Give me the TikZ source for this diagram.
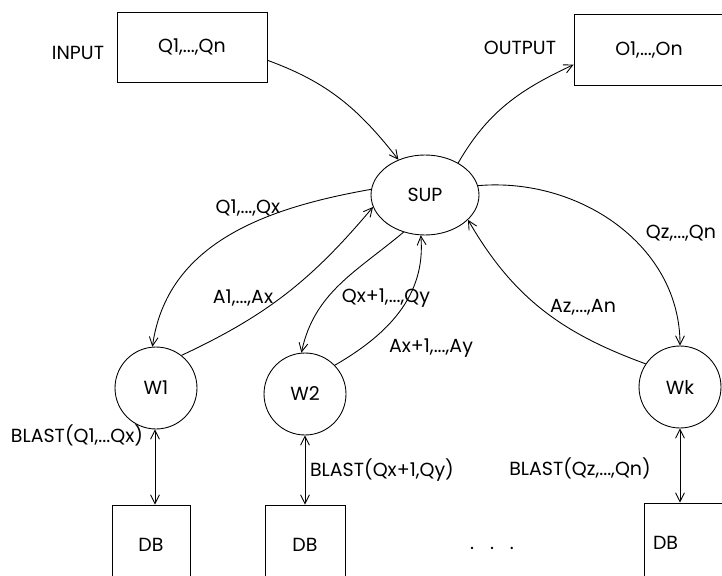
\documentclass[tikz,border=0pt]{standalone}
\usepackage{fontspec}
\setmainfont{Poppins}
\usetikzlibrary{shapes.geometric,arrows.meta}

\tikzset{
  every node/.style={font=\fontsize{10.8}{13}\selectfont},
  box/.style={draw,rectangle,line width=0.5pt},
  worker/.style={draw,circle,minimum size=1.64cm,inner sep=0pt,line width=0.5pt},
  flow/.style={line width=0.5pt,-{Straight Barb[length=5pt,width=5pt]}},
  both/.style={line width=0.5pt,{Straight Barb[length=5pt,width=5pt]}-{Straight Barb[length=5pt,width=5pt]}}
}

\begin{document}
\begin{tikzpicture}[x=0.02cm,y=0.02cm]
\useasboundingbox (0,0) rectangle (722,575);

\node[box,minimum width=3cm,minimum height=1.4cm] (inbox) at (192,528) {Q1,...,Qn};
\node (input) at (78,522) {INPUT};
\node[box,minimum width=3cm,minimum height=1.42cm] (outbox) at (649,525) {O1,...,On};
\node (output) at (520,527) {OUTPUT};

\node[draw,ellipse,minimum width=2.16cm,minimum height=1.6cm,inner sep=0pt,line width=0.5pt] (sup) at (425,380) {SUP};

\node[worker] (w1) at (156,187) {W1};
\node[worker] (w2) at (305,181) {W2};
\node[worker] (wk) at (680,188) {Wk};

\node[box,minimum width=1.56cm,minimum height=1.6cm] (db1) at (151,30) {DB};
\node[box,minimum width=1.6cm,minimum height=1.6cm] (db2) at (305,30) {DB};
\node[box,minimum height=1.6cm,text width=1.2cm,align=left,inner xsep=0.18cm] (dbk) at (683,32) {DB};
\node[anchor=base] (dots) at (492,26) {.\hspace{9pt}.\hspace{9pt}.};

\draw[flow] (inbox.-10) to[out=-20,in=128] (sup.127);
\draw[flow] (sup.44) to[out=60,in=205] (outbox.191);

\draw[flow] (sup.174) to[out=190,in=82] (w1.95);
\draw[flow] (w1.52) to[out=25,in=230] (sup.193);
\draw[flow] (sup.240) to[out=220,in=78] (w2.95);
\draw[flow] (w2.44) to[out=30,in=-85] (sup.264);
\draw[flow] (sup.10) to[out=5,in=90] (wk.90);
\draw[flow] (wk.146) to[out=160,in=-60] (sup.-30);

\node (lq1) at (248,367) {Q1,...,Qx};
\node (la1) at (243,277) {A1,...,Ax};
\node (lq2) at (386,277) {Qx+1,...,Qy};
\node (la2) at (431,227) {Ax+1,...,Ay};
\node (lqk) at (681,342) {Qz,...,Qn};
\node (lak) at (583,268) {Az,...,An};

\draw[both] (w1.south -| 155,0) -- (155,0 |- db1.north);
\draw[both] (w2.south) -- (db2.north);
\draw[both] (wk.south) -- (wk.south |- dbk.north);

\node (b1) at (77,140) {BLAST(Q1,...Qx)};
\node[anchor=west,inner xsep=1pt] (b2) at (308,105) {BLAST(Qx+1,Qy)};
\node (bk) at (580,107) {BLAST(Qz,...,Qn)};
\end{tikzpicture}
\end{document}
